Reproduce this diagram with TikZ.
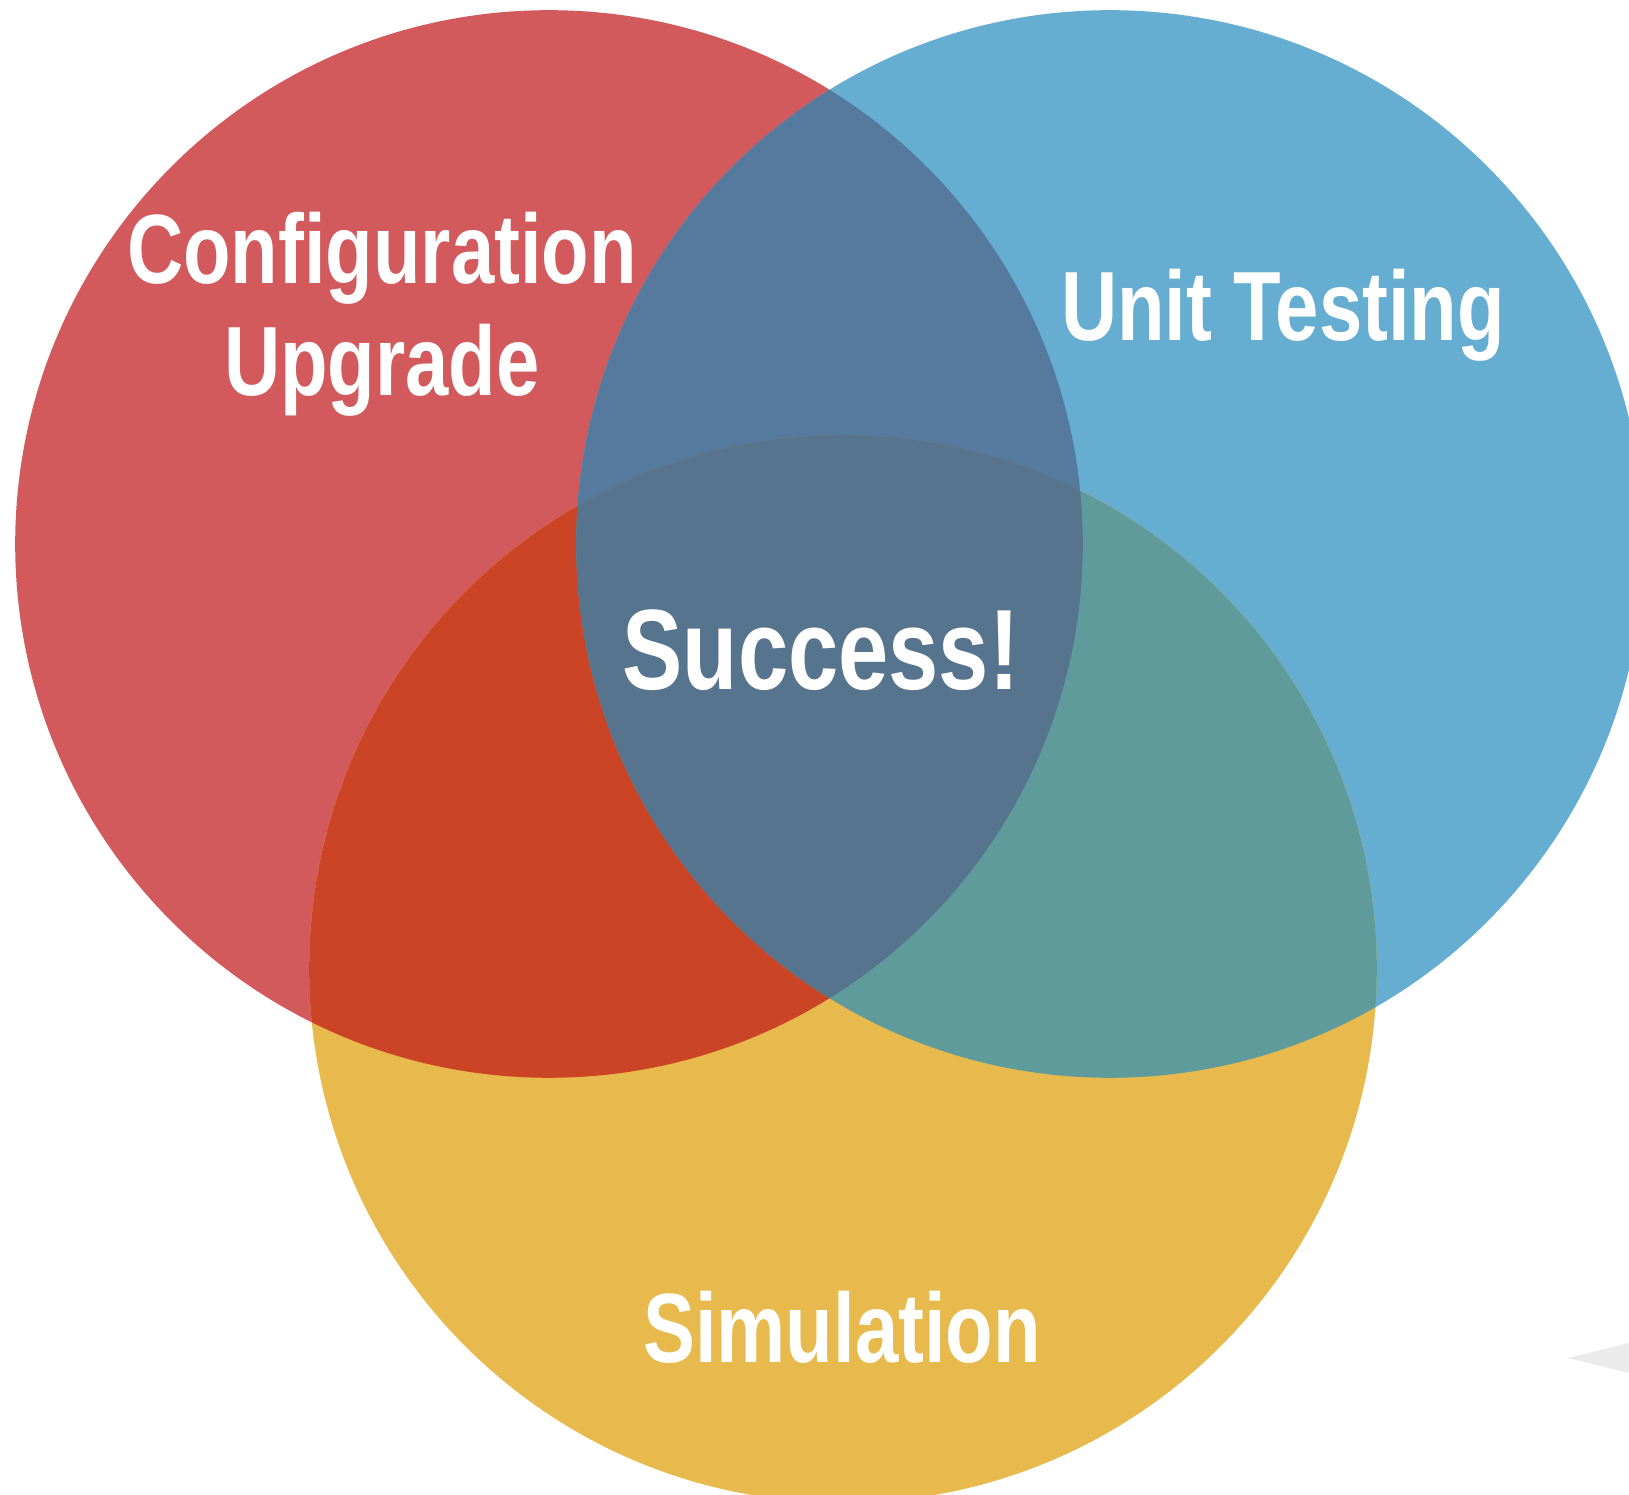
\documentclass[tikz,border=0pt]{standalone}
\usepackage{fontspec}
\newfontfamily\vennfont[FakeStretch=0.79]{Liberation Sans}
\definecolor{vennred}{HTML}{D35A5C}
\definecolor{vennblue}{HTML}{65AED2}
\definecolor{vennyellow}{HTML}{E8BA4D}
\definecolor{redblue}{HTML}{567A9D}
\definecolor{redyellow}{HTML}{CB4426}
\definecolor{blueyellow}{HTML}{5F9B9B}
\definecolor{allthree}{HTML}{57748F}
\definecolor{wedgegray}{HTML}{EBEBEB}
\newcommand\vennr{5.335cm}

\begin{document}
\begin{tikzpicture}[x=0.01cm, y=-0.01cm,
    venntext/.style={text=white, inner sep=0pt, anchor=base, align=center,
      font=\vennfont\bfseries\fontsize{28}{32}\selectfont}]
  \useasboundingbox (0,0) rectangle (1629,1495);

  \coordinate (redc) at (549,544);
  \coordinate (bluec) at (1110,544);
  \coordinate (yellowc) at (843,969);

  % the three sets
  \fill [vennred] (redc) circle [radius=\vennr];
  \fill [vennblue] (bluec) circle [radius=\vennr];
  \fill [vennyellow] (yellowc) circle [radius=\vennr];

  % overlaps
  \begin{scope}
    \clip (redc) circle [radius=\vennr];
    \fill [redblue] (bluec) circle [radius=\vennr];
    \fill [redyellow] (yellowc) circle [radius=\vennr];
  \end{scope}
  \begin{scope}
    \clip (bluec) circle [radius=\vennr];
    \fill [blueyellow] (yellowc) circle [radius=\vennr];
  \end{scope}
  \begin{scope}
    \clip (redc) circle [radius=\vennr];
    \clip (bluec) circle [radius=\vennr];
    \fill [allthree] (yellowc) circle [radius=\vennr];
  \end{scope}

  \fill [wedgegray] (1568,1358) -- (1629,1343) -- (1629,1373) -- cycle;

  \node [venntext] (config) at (382,396) {Configuration\\Upgrade};
  \node [venntext] (unittest) at (1283,341) {Unit Testing};
  \node [venntext, font=\vennfont\bfseries\fontsize{32.5}{38}\selectfont] (success) at (821,690) {Success!};
  \node [venntext] (simul) at (842,1363) {Simulation};
\end{tikzpicture}
\end{document}
